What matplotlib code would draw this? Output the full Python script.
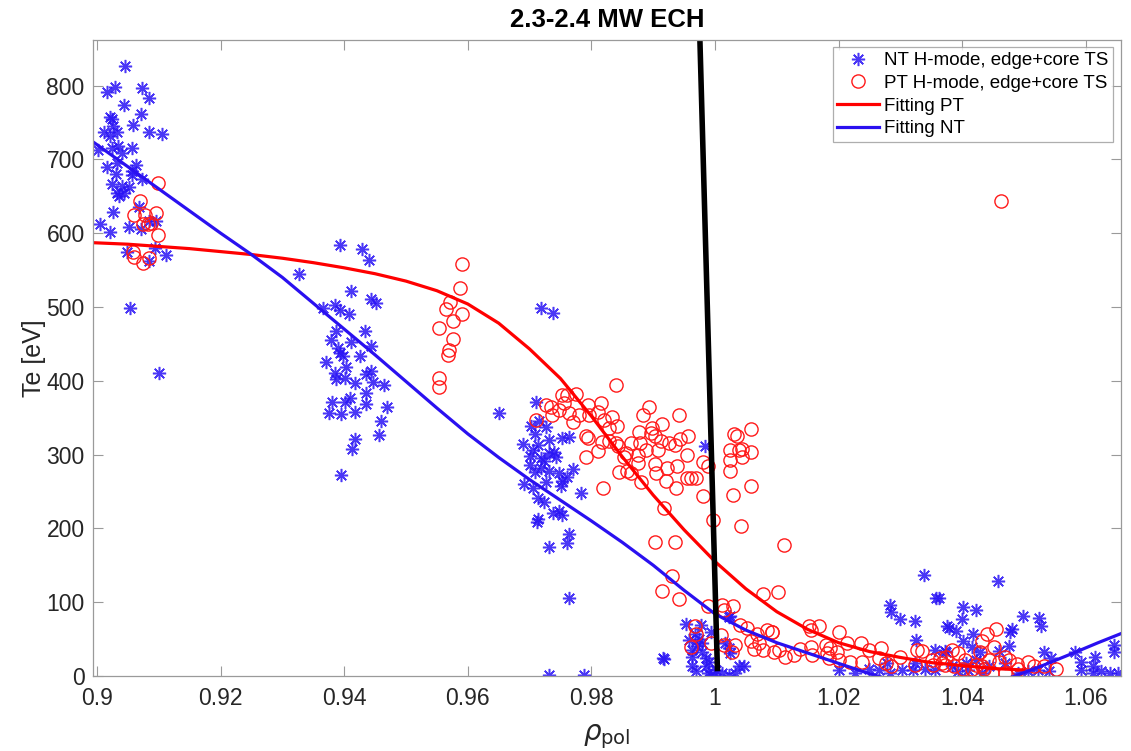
import numpy as np
import matplotlib
matplotlib.use("Agg")
import matplotlib.pyplot as plt

# NT H-mode, edge+core TS (blue asterisks)
nt_rho = [
    0.9046, 0.9016, 0.9029, 0.9073, 0.9084, 0.9043, 0.9021, 0.9024, 0.9071, 0.9058,
    0.9026, 0.9011, 0.9021, 0.9032, 0.9084, 0.9106, 0.9002, 0.9024, 0.9034, 0.9040,
    0.9056, 0.9033, 0.9016, 0.9063, 0.9056, 0.9056, 0.9073, 0.9030, 0.9024, 0.9040,
    0.9051, 0.9033, 0.9043, 0.9036, 0.9068, 0.9026, 0.9084, 0.9096, 0.9005, 0.9051,
    0.9021, 0.9072, 0.9094, 0.9048, 0.9111, 0.9084, 0.9053, 0.9101,
    0.9393, 0.9429, 0.9440, 0.9327, 0.9411, 0.9444, 0.9452, 0.9366, 0.9385, 0.9393,
    0.9408, 0.9387, 0.9433, 0.9379, 0.9411, 0.9444, 0.9390, 0.9393, 0.9398, 0.9425,
    0.9370, 0.9403, 0.9385, 0.9386, 0.9402, 0.9435, 0.9444, 0.9418, 0.9446, 0.9465,
    0.9435, 0.9381, 0.9402, 0.9410, 0.9435, 0.9470, 0.9376, 0.9395, 0.9418, 0.9459,
    0.9456, 0.9417, 0.9413, 0.9395,
    0.9651, 0.9710, 0.9702, 0.9716, 0.9727, 0.9708, 0.9689, 0.9713, 0.9732, 0.9752,
    0.9764, 0.9705, 0.9700, 0.9718, 0.9732, 0.9740, 0.9742, 0.9724, 0.9700, 0.9718,
    0.9708, 0.9731, 0.9748, 0.9771, 0.9761, 0.9753, 0.9727, 0.9751, 0.9691, 0.9705,
    0.9783, 0.9713, 0.9724, 0.9738, 0.9748, 0.9753, 0.9713, 0.9712, 0.9763, 0.9760,
    0.9732, 0.9718, 0.9738, 0.9763, 0.9917, 0.9732, 0.9788, 0.9984,
    0.9953, 0.9977, 1.0023, 0.9993, 0.9968, 0.9958, 0.9974, 0.9979, 0.9971, 0.9963,
    0.9979, 1.0017, 1.0023, 1.0025, 0.9963, 0.9985, 0.9990, 0.9963, 0.9969, 0.9985,
    0.9988, 0.9993, 0.9998, 1.0012, 1.0023, 1.0033, 1.0047, 0.9916, 1.0001, 1.0024,
    1.0039,
    1.0339, 1.0358, 1.0284, 1.0285, 1.0300, 1.0324, 1.0375, 1.0325, 1.0356, 1.0373,
    1.0200, 1.0227, 1.0249, 1.0265, 1.0284, 1.0303, 1.0321, 1.0340, 1.0356, 1.0278,
    1.0324,
    1.0458, 1.0362, 1.0401, 1.0423, 1.0400, 1.0499, 1.0524, 1.0527, 1.0378, 1.0390,
    1.0481, 1.0478, 1.0418, 1.0402, 1.0476, 1.0416, 1.0429, 1.0459, 1.0374, 1.0533,
    1.0583, 1.0543, 1.0593, 1.0615, 1.0645, 1.0645, 1.0593, 1.0612, 1.0612, 1.0639,
    1.0652, 1.0383, 1.0394, 1.0410, 1.0432, 1.0491, 1.0507, 1.0523, 1.0540, 1.0443,
    1.0470, 1.0422, 1.0406, 1.0625,
]
nt_te = [
    827, 791, 798, 797, 783, 773, 758, 754, 761, 747,
    745, 737, 732, 737, 737, 734, 712, 716, 718, 708,
    716, 695, 690, 692, 684, 679, 673, 680, 667, 664,
    663, 655, 655, 650, 635, 628, 616, 617, 613, 608,
    602, 606, 580, 574, 571, 562, 498, 411,
    584, 578, 564, 545, 522, 511, 506, 499, 503, 496,
    490, 468, 467, 455, 452, 447, 444, 437, 433, 434,
    425, 419, 411, 402, 404, 409, 413, 397, 398, 394,
    384, 371, 371, 376, 369, 364, 356, 355, 358, 345,
    326, 321, 308, 272,
    356, 371, 339, 345, 337, 328, 314, 313, 320, 323,
    324, 306, 298, 295, 302, 304, 296, 291, 286, 282,
    276, 277, 275, 280, 270, 264, 263, 257, 260, 254,
    248, 241, 235, 221, 224, 218, 212, 209, 192, 180,
    175, 499, 492, 105, 23, 1, 1, 312,
    71, 69, 80, 60, 57, 49, 50, 44, 40, 35,
    33, 44, 38, 31, 26, 24, 19, 13, 6, 13,
    4, 1, 1, 4, 1, 4, 14, 24, 8, 81,
    14,
    137, 105, 96, 87, 77, 75, 67, 49, 35, 34,
    8, 4, 9, 8, 4, 8, 8, 10, 8, 17,
    17,
    128, 105, 93, 89, 77, 81, 78, 67, 65, 61,
    63, 59, 57, 47, 41, 39, 33, 34, 33, 33,
    32, 24, 19, 26, 42, 33, 8, 13, 4, 4,
    4, 13, 6, 8, 4, 4, 6, 8, 6, 13,
    17, 22, 17, 6,
]

# PT H-mode, edge+core TS (red circles)
pt_rho = [
    0.9098, 0.9069, 0.9060, 0.9078, 0.9096, 0.9075, 0.9083, 0.9087, 0.9099, 0.9059,
    0.9060, 0.9074, 0.9084,
    0.9590, 0.9588, 0.9571, 0.9564, 0.9590, 0.9576, 0.9554, 0.9576, 0.9569, 0.9568,
    0.9554, 0.9554,
    0.9840, 0.9710, 0.9727, 0.9735, 0.9752, 0.9761, 0.9775, 0.9736, 0.9747, 0.9756,
    0.9764, 0.9771, 0.9780, 0.9796, 0.9795, 0.9815, 0.9810, 0.9821, 0.9834, 0.9829,
    0.9842, 0.9791, 0.9794, 0.9817, 0.9828, 0.9840, 0.9843, 0.9856, 0.9864, 0.9877,
    0.9878, 0.9893, 0.9883, 0.9898, 0.9896, 0.9903, 0.9914, 0.9912, 0.9908, 0.9888,
    0.9926, 0.9935, 0.9942, 0.9943, 0.9957, 0.9791, 0.9810, 0.9853, 0.9876, 0.9875,
    0.9844, 0.9857, 0.9864, 0.9880, 0.9903, 0.9905, 0.9923, 0.9938, 0.9920, 0.9937,
    0.9955, 0.9962, 0.9969, 0.9954, 0.9981, 0.9989, 0.9980, 0.9819, 0.9917, 0.9996,
    0.9903, 0.9935, 0.9931, 0.9914, 0.9941,
    1.0031, 1.0035, 1.0058, 1.0025, 1.0039, 1.0044, 1.0059, 1.0025, 1.0044, 1.0025,
    1.0058, 1.0029, 1.0042, 1.0111, 1.0078, 1.0102,
    0.9989, 1.0012, 1.0029, 1.0014, 0.9968, 0.9970, 0.9961, 0.9993, 1.0009, 1.0014,
    1.0033, 1.0028, 1.0041, 1.0052, 1.0068, 1.0084, 1.0093, 1.0059, 1.0071, 1.0063,
    1.0077, 1.0096,
    1.0152, 1.0168, 1.0155, 1.0200, 1.0092, 1.0104, 1.0114, 1.0128, 1.0138, 1.0155,
    1.0157, 1.0179, 1.0181, 1.0186, 1.0197, 1.0184, 1.0200, 1.0214, 1.0218, 1.0236,
    1.0249, 1.0238, 1.0268, 1.0265, 1.0276, 1.0285, 1.0300, 1.0327, 1.0335, 1.0324,
    1.0351, 1.0353, 1.0364, 1.0373,
    1.0455, 1.0440, 1.0432, 1.0451, 1.0429, 1.0383, 1.0394, 1.0374, 1.0470, 1.0405,
    1.0443, 1.0459, 1.0475, 1.0507, 1.0488, 1.0517, 1.0533, 1.0552, 1.0368, 1.0387,
    1.0401, 1.0416, 1.0432, 1.0448, 1.0470, 1.0422, 1.0436, 1.0491, 1.0463,
]
pt_te = [
    668, 644, 624, 625, 627, 613, 612, 614, 597, 574,
    567, 560, 566,
    558, 525, 507, 497, 490, 481, 471, 457, 442, 435,
    404, 391,
    394, 347, 367, 365, 381, 381, 382, 354, 361, 370,
    356, 344, 354, 354, 367, 370, 357, 347, 351, 336,
    338, 325, 322, 317, 318, 316, 311, 302, 316, 330,
    316, 365, 354, 336, 329, 325, 342, 318, 306, 306,
    316, 313, 354, 321, 325, 296, 305, 297, 300, 288,
    276, 278, 275, 263, 287, 275, 282, 285, 264, 254,
    268, 268, 268, 299, 290, 285, 244, 255, 228, 211,
    181, 181, 136, 115, 104,
    328, 325, 335, 306, 306, 307, 304, 293, 297, 278,
    258, 245, 203, 178, 111, 114,
    95, 96, 95, 89, 67, 57, 39, 44, 56, 42,
    42, 33, 69, 65, 57, 62, 60, 47, 44, 36,
    35, 33,
    67, 67, 62, 59, 60, 35, 26, 28, 36, 39,
    28, 42, 31, 38, 33, 24, 22, 44, 19, 44,
    35, 19, 38, 24, 17, 14, 26, 35, 34, 15,
    22, 15, 24, 15,
    63, 57, 47, 39, 32, 35, 31, 26, 26, 22,
    22, 19, 22, 19, 16, 13, 14, 10, 17, 14,
    10, 9, 13, 4, 4, 15, 10, 10, 643,
]

# fitted profiles
fit_pt_rho = [0.8995, 0.905, 0.910, 0.915, 0.920, 0.925, 0.930, 0.935, 0.940, 0.945,
              0.950, 0.955, 0.960, 0.965, 0.970, 0.975, 0.980, 0.985, 0.990, 0.995,
              1.000, 1.005, 1.010, 1.015, 1.020, 1.025, 1.030, 1.035, 1.040, 1.045,
              1.050]
fit_pt_te = [587, 585, 582, 579, 575, 571, 566, 560, 553, 545,
             535, 522, 504, 478, 443, 403, 352, 297, 245, 198,
             155, 118, 87, 63, 45, 33, 25, 18, 14, 10,
             8]
fit_nt_rho = [0.8993, 0.905, 0.910, 0.915, 0.920, 0.925, 0.930, 0.935, 0.940, 0.945,
              0.950, 0.955, 0.960, 0.965, 0.970, 0.975, 0.980, 0.985, 0.990, 0.995,
              1.000, 1.005, 1.010, 1.015, 1.020, 1.025, 1.030, 1.035, 1.040, 1.045,
              1.0486, 1.053, 1.058, 1.062, 1.0665]
fit_nt_te = [724, 690, 660, 630, 600, 571, 540, 505, 470, 435,
             399, 363, 328, 296, 266, 238, 210, 181, 150, 116,
             84, 62, 45, 31, 17, 3, -9, -17, -18, -10,
             0, 14, 31, 45, 60]

# separatrix marker line
sep_rho = [0.99756, 1.00039]
sep_te = [862, 10]

xlim = (0.89935, 1.06567)
ylim = (0, 862)
x_ticks = [0.9, 0.92, 0.94, 0.96, 0.98, 1.0, 1.02, 1.04, 1.06]
x_tick_labels = ["0.9", "0.92", "0.94", "0.96", "0.98", "1", "1.02", "1.04", "1.06"]
y_ticks = [0, 100, 200, 300, 400, 500, 600, 700, 800]

plt.rcParams['font.family'] = ['Liberation Sans', 'DejaVu Sans']

fig = plt.figure(figsize=(11.31, 7.51), dpi=100)
ax = fig.add_axes([0.0822, 0.1, 0.9088, 0.847])

asterisk = (8, 2, 0)
ax.plot(nt_rho, nt_te, linestyle='none', marker=asterisk, markersize=9.5,
        markeredgewidth=1.1, color='#2a14f5', alpha=0.85,
        label='NT H-mode, edge+core TS')
ax.plot(pt_rho, pt_te, linestyle='none', marker='o', markersize=9.5,
        markerfacecolor='none', markeredgewidth=1.0, markeredgecolor='#ff1a1a',
        label='PT H-mode, edge+core TS')
ax.plot(fit_pt_rho, fit_pt_te, color='#ff0000', linewidth=2.3, label='Fitting PT')
ax.plot(fit_nt_rho, fit_nt_te, color='#2a10f0', linewidth=2.3, label='Fitting NT')
ax.plot(sep_rho, sep_te, color='black', linewidth=4.0)

ax.set_xlim(*xlim)
ax.set_ylim(*ylim)
ax.set_xticks(x_ticks)
ax.set_xticklabels(x_tick_labels)
ax.set_yticks(y_ticks)

ax.tick_params(direction='in', top=True, right=True, length=7, width=0.8,
               colors='#9a9a9a', labelcolor='#262626', labelsize=16.5, pad=8)
ax.tick_params(axis='y', pad=6)
for sp in ax.spines.values():
    sp.set_color('#9a9a9a')
    sp.set_linewidth(0.9)

ax.set_title('2.3-2.4 MW ECH', fontsize=18.5, fontweight='bold', pad=9)
ax.set_xlabel(r'$\rho_{\mathrm{pol}}$', fontsize=20, color='#262626', labelpad=9)
ax.set_ylabel('Te [eV]', fontsize=18, color='#262626', labelpad=0)

leg = ax.legend(loc='upper right', fontsize=13.5, frameon=True, fancybox=False,
                borderaxespad=0.4, handlelength=2.2, handletextpad=0.3,
                borderpad=0.25, labelspacing=0.3)
leg.get_frame().set_edgecolor('#9a9a9a')
leg.get_frame().set_linewidth(0.9)

fig.savefig('out.png', dpi=100)
